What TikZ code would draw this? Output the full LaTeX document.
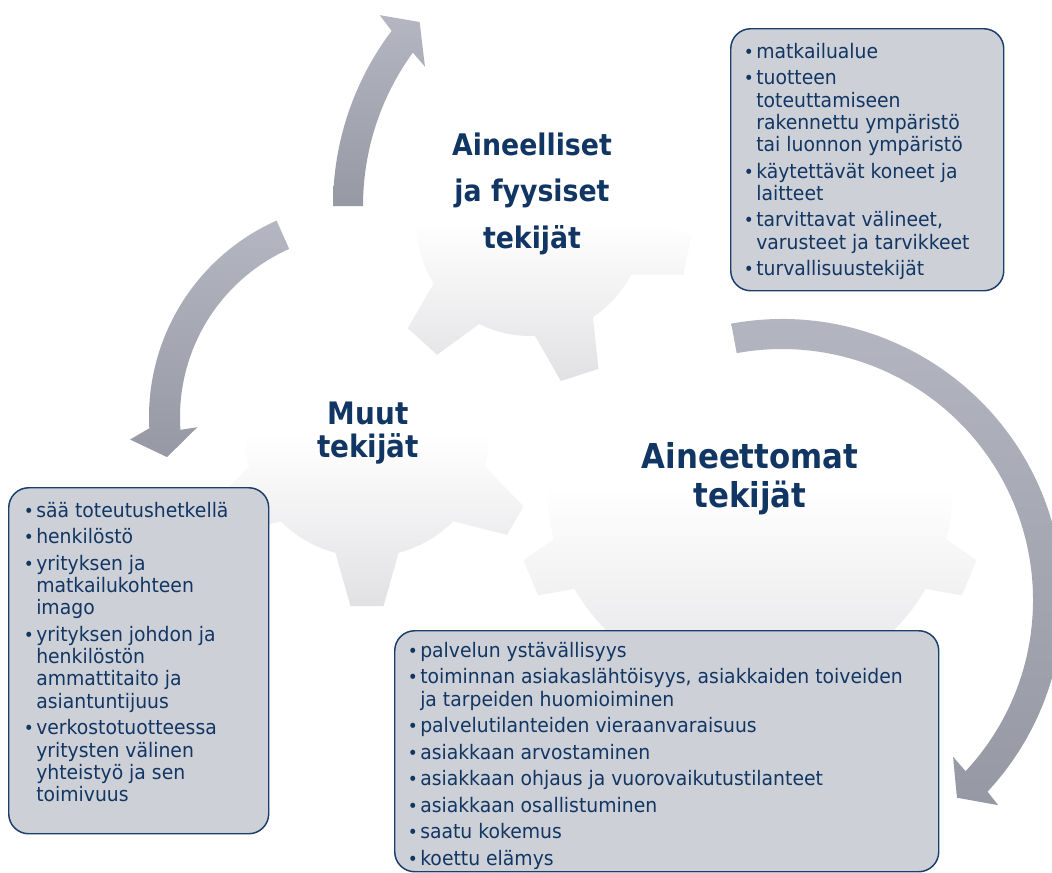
\documentclass[tikz,border=0pt]{standalone}
\usepackage{graphicx}
\usepackage{fontspec}
\newfontfamily\boxfont{DejaVu Sans}[FakeStretch=0.94]
\newfontfamily\titlefont{DejaVu Sans}[FakeStretch=0.9]

\definecolor{navy}{RGB}{17,54,99}
\definecolor{boxline}{RGB}{28,62,108}
\definecolor{boxfill}{RGB}{206,208,215}
\definecolor{arrowtop}{RGB}{180,183,194}
\definecolor{arrowbot}{RGB}{150,153,164}
\definecolor{gearlow}{RGB}{225,225,228}

\newcommand{\itm}{\makebox[9.3pt][l]{\scalebox{0.9}{•}}}
\newcommand{\cnt}{\hspace*{9.3pt}}

\begin{document}
\begin{tikzpicture}[x=0.75pt,y=-0.75pt,
  gear/.style={top color=white,bottom color=gearlow,middle color=white,draw=none},
  circarrow/.style={top color=arrowtop,bottom color=arrowbot,draw=none},
  listbox/.style={draw=boxline,line width=1.1pt,fill=boxfill,rounded corners=15pt,
    inner sep=0pt,anchor=north west},
  listtext/.style={align=left,text=navy,inner sep=0pt,anchor=north west,
    font=\boxfont\fontsize{15}{16.7}\selectfont},
  title/.style={align=center,text=navy,inner sep=0pt,anchor=north}]
  \fill[white] (0,0) rectangle (1052,872);
  \useasboundingbox (0,0) rectangle (1052,872);

  % gears
  \begin{scope}[shift={(750,487)}]
    \path[gear] (14.9:203) \foreach \t in {22.5,67.5,...,337.5}
      {-- ({\t-7.6}:203) -- ({\t-4.6}:238) -- ({\t+4.6}:238) -- ({\t+7.6}:203)
       arc[start angle={\t+7.6},end angle={\t+37.4},radius=203]} -- cycle;
  \end{scope}
  \begin{scope}[shift={(367,435)}]
    \path[gear] (15:122) \foreach \t in {30,90,...,330}
      {-- ({\t-15}:122) -- ({\t-5.5}:172) -- ({\t+5.5}:172) -- ({\t+15}:122)
       arc[start angle={\t+15},end angle={\t+45},radius=122]} -- cycle;
  \end{scope}
  \begin{scope}[shift={(530,222)}]
    \path[gear] (-3.5:114) \foreach \t in {12,72,...,312}
      {-- ({\t-15.5}:114) -- ({\t-7}:162) -- ({\t+7}:162) -- ({\t+15.5}:114)
       arc[start angle={\t+15.5},end angle={\t+44.5},radius=114]} -- cycle;
  \end{scope}

  % arrows
  \begin{scope}[shift={(624,206)}]
    \path[circarrow] (180:291) arc[start angle=180,end angle=217,radius=291]
      -- (218:310) -- (222:275) -- (215:243) -- (216:261)
      arc[start angle=216,end angle=180,radius=261] -- cycle;
  \end{scope}
  \begin{scope}[shift={(364,417)}]
    \path[circarrow] (-114:215) arc[start angle=-114,end angle=-183,radius=215]
      -- (-185.5:235) -- (-191.5:201) -- (-183.5:167) -- (-184:184)
      arc[start angle=-184,end angle=-114,radius=184] -- cycle;
  \end{scope}
  \begin{scope}[shift={(782,600)}]
    \path[circarrow] (-100.4:281) arc[start angle=-100.4,end angle=43,radius=281]
      -- (43.5:298) -- (48.5:264) -- (42.5:232) -- (43:251)
      arc[start angle=43,end angle=-100.4,radius=251] -- cycle;
  \end{scope}

  % boxes
  \node[listbox,minimum width=204.75pt,minimum height=196.5pt] (fysbox) at (730,28) {};
  \node[listbox,minimum width=195pt,minimum height=259.5pt] (muutbox) at (8,487) {};
  \node[listbox,minimum width=408pt,minimum height=180.75pt] (aineetbox) at (394,630) {};

  \node[listtext] (fyslist) at ([xshift=10.2pt,yshift=-9.75pt]fysbox.north west)
    {\rule{0pt}{12.75pt}\itm matkailualue\\[3.2pt]
     \itm tuotteen\\
     \cnt toteuttamiseen\\
     \cnt rakennettu ympäristö\\
     \cnt tai luonnon ympäristö\\[3.2pt]
     \itm käytettävät koneet ja\\
     \cnt laitteet\\[3.2pt]
     \itm tarvittavat välineet,\\
     \cnt varusteet ja tarvikkeet\\[3.2pt]
     \itm turvallisuustekijät};
  \node[listtext] (muutlist) at ([xshift=11.7pt,yshift=-9.75pt]muutbox.north west)
    {\rule{0pt}{12.75pt}\itm sää toteutushetkellä\\[3.2pt]
     \itm henkilöstö\\[3.2pt]
     \itm yrityksen ja\\
     \cnt matkailukohteen\\
     \cnt imago\\[3.2pt]
     \itm yrityksen johdon ja\\
     \cnt henkilöstön\\
     \cnt ammattitaito ja\\
     \cnt asiantuntijuus\\[3.2pt]
     \itm verkostotuotteessa\\
     \cnt yritysten välinen\\
     \cnt yhteistyö ja sen\\
     \cnt toimivuus};
  \node[listtext] (aineetlist) at ([xshift=10.2pt,yshift=-7.5pt]aineetbox.north west)
    {\rule{0pt}{12.75pt}\itm palvelun ystävällisyys\\[3.2pt]
     \itm toiminnan asiakaslähtöisyys, asiakkaiden toiveiden\\
     \cnt ja tarpeiden huomioiminen\\[3.2pt]
     \itm palvelutilanteiden vieraanvaraisuus\\[3.2pt]
     \itm asiakkaan arvostaminen\\[3.2pt]
     \itm asiakkaan ohjaus ja vuorovaikutustilanteet\\[3.2pt]
     \itm asiakkaan osallistuminen\\[3.2pt]
     \itm saatu kokemus\\[3.2pt]
     \itm koettu elämys};

  % titles
  \node[title,font=\titlefont\bfseries\fontsize{22.3}{34.9}\selectfont] (fystitle) at (532,127)
    {\rule{0pt}{21pt}Aineelliset\\ja fyysiset\\tekijät};
  \node[title,font=\titlefont\bfseries\fontsize{23.2}{24.75}\selectfont] (muuttitle) at (368,396)
    {\rule{0pt}{21pt}Muut\\tekijät};
  \node[title,font=\titlefont\bfseries\fontsize{25.7}{29.25}\selectfont] (aineettitle) at (750,436)
    {\rule{0pt}{24pt}Aineettomat\\tekijät};
\end{tikzpicture}
\end{document}
